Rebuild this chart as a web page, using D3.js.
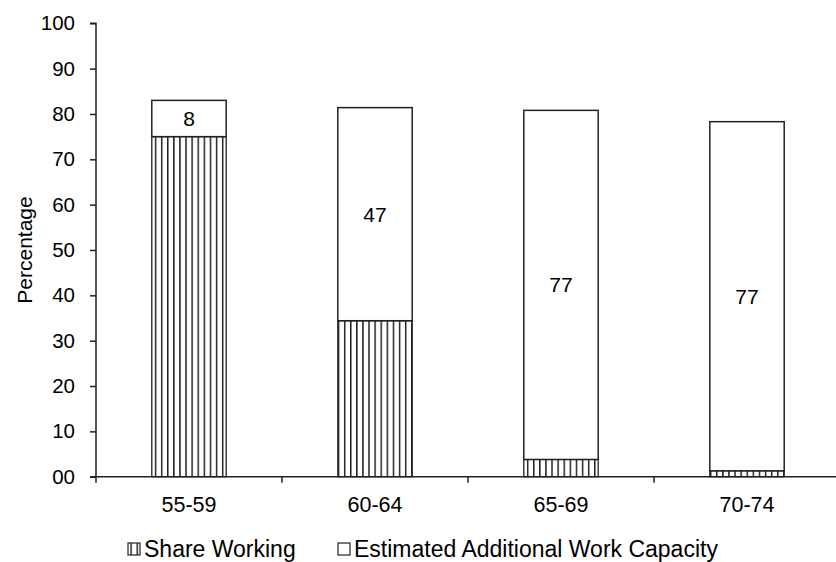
<!DOCTYPE html>
<html>
<head>
<meta charset="utf-8">
<script src="https://cdn.jsdelivr.net/npm/d3@7"></script>
<style>
  html, body { margin: 0; padding: 0; background: #fff; }
  svg { display: block; font-family: "Liberation Sans", Arial, sans-serif; }
</style>
</head>
<body>
<svg id="chart" width="836" height="562"></svg>
<script>
// Age groups and the two stacked series (percent of population)
const categories = ["55-59", "60-64", "65-69", "70-74"];
const shareWorking = [75, 34.4, 3.8, 1.3];
const additionalCapacity = [8, 47, 77, 77];
const seriesNames = ["Share Working", "Estimated Additional Work Capacity"];
const yTicks = [0, 10, 20, 30, 40, 50, 60, 70, 80, 90, 100];
const yTickLabels = ["00", "10", "20", "30", "40", "50", "60", "70", "80", "90", "100"];

const svg = d3.select("#chart");
const margin = { left: 96, right: -4, top: 23.3, bottom: 85.3 };
const W = 836, H = 562;
const FONT = "Liberation Sans, Arial, sans-serif";

const x = d3.scaleBand()
  .domain(categories)
  .range([margin.left, W - margin.right])
  .paddingInner(0.6)
  .paddingOuter(0.3);

const y = d3.scaleLinear()
  .domain([0, 100])
  .range([H - margin.bottom, margin.top]);

// Vertical-line hatch fill for the working share
const defs = svg.append("defs");
const pat = defs.append("pattern")
  .attr("id", "vhatch")
  .attr("patternUnits", "userSpaceOnUse")
  .attr("width", 6.1).attr("height", 10)
  .attr("x", x(categories[0]) + 3);
pat.append("rect").attr("width", 6.1).attr("height", 10).attr("fill", "#fff");
pat.append("line")
  .attr("x1", 0.75).attr("x2", 0.75).attr("y1", 0).attr("y2", 10)
  .attr("stroke", "#111").attr("stroke-width", 1.4);

const rows = categories.map((c, i) => ({
  cat: c, work: shareWorking[i], extra: additionalCapacity[i]
}));

const g = svg.append("g");

// Lower segment: share working
g.selectAll("rect.work").data(rows).join("rect")
  .attr("class", "work")
  .attr("x", d => x(d.cat))
  .attr("width", x.bandwidth())
  .attr("y", d => y(d.work))
  .attr("height", d => y(0) - y(d.work))
  .attr("fill", "url(#vhatch)")
  .attr("stroke", "#222").attr("stroke-width", 1.3);

// Upper segment: estimated additional capacity
g.selectAll("rect.extra").data(rows).join("rect")
  .attr("class", "extra")
  .attr("x", d => x(d.cat))
  .attr("width", x.bandwidth())
  .attr("y", d => y(d.work + d.extra))
  .attr("height", d => y(d.work) - y(d.work + d.extra))
  .attr("fill", "#fff")
  .attr("stroke", "#222").attr("stroke-width", 1.5);

// Value labels in the upper segments
g.selectAll("text.val").data(rows).join("text")
  .attr("class", "val")
  .attr("x", d => x(d.cat) + x.bandwidth() / 2)
  .attr("y", d => (y(d.work) + y(d.work + d.extra)) / 2)
  .attr("dy", "0.36em")
  .attr("text-anchor", "middle")
  .attr("font-size", 21)
  .attr("font-family", FONT)
  .attr("fill", "#000")
  .text(d => d.extra);

// Y axis
const yAxis = d3.axisLeft(y)
  .tickValues(yTicks)
  .tickSize(6)
  .tickPadding(15)
  .tickFormat((d, i) => yTickLabels[i]);
const ya = svg.append("g")
  .attr("transform", `translate(${margin.left},0)`)
  .call(yAxis);
ya.attr("font-size", 20.5).attr("font-family", FONT);
ya.select(".domain").attr("stroke", "#222").attr("stroke-width", 1.5)
  .attr("d", `M-6,${y(100)}H0V${y(0)}`);
ya.selectAll(".tick line").attr("stroke", "#222").attr("stroke-width", 1.5);
ya.selectAll(".tick text").attr("fill", "#000");

// X axis: ticks at category boundaries
const bounds = categories.map(c => x(c) - x.step() * x.paddingOuter());
bounds.push(W - margin.right);
const xa = svg.append("g").attr("transform", `translate(0,${y(0)})`);
xa.append("line")
  .attr("x1", margin.left - 6).attr("x2", W)
  .attr("stroke", "#222").attr("stroke-width", 1.5);
xa.selectAll("line.tk").data(bounds).join("line")
  .attr("class", "tk")
  .attr("x1", d => d).attr("x2", d => d)
  .attr("y1", 0).attr("y2", 6)
  .attr("stroke", "#222").attr("stroke-width", 1.5);
xa.selectAll("text").data(categories).join("text")
  .attr("x", d => x(d) + x.bandwidth() / 2)
  .attr("y", 28)
  .attr("dy", "0.36em")
  .attr("text-anchor", "middle")
  .attr("font-size", 21.5)
  .attr("font-family", FONT)
  .attr("fill", "#000")
  .text(d => d);

// Y axis title
svg.append("text")
  .attr("transform", `translate(32,${(y(0) + y(100)) / 2}) rotate(-90)`)
  .attr("text-anchor", "middle")
  .attr("font-size", 21)
  .attr("font-family", FONT)
  .attr("fill", "#000")
  .text("Percentage");

// Legend
const legendItems = [
  { name: seriesNames[0], fill: "url(#vhatch)", x: 128 },
  { name: seriesNames[1], fill: "#fff", x: 338 }
];
const lg = svg.append("g").attr("transform", "translate(0,549)");
legendItems.forEach(it => {
  lg.append("rect")
    .attr("x", it.x).attr("y", -6)
    .attr("width", 12).attr("height", 12)
    .attr("fill", it.fill)
    .attr("stroke", "#222").attr("stroke-width", 1.2);
  lg.append("text")
    .attr("x", it.x + 16).attr("y", 0)
    .attr("dy", "0.36em")
    .attr("font-size", 23)
    .attr("font-family", FONT)
    .attr("fill", "#000")
    .text(it.name);
});
</script>
</body>
</html>
